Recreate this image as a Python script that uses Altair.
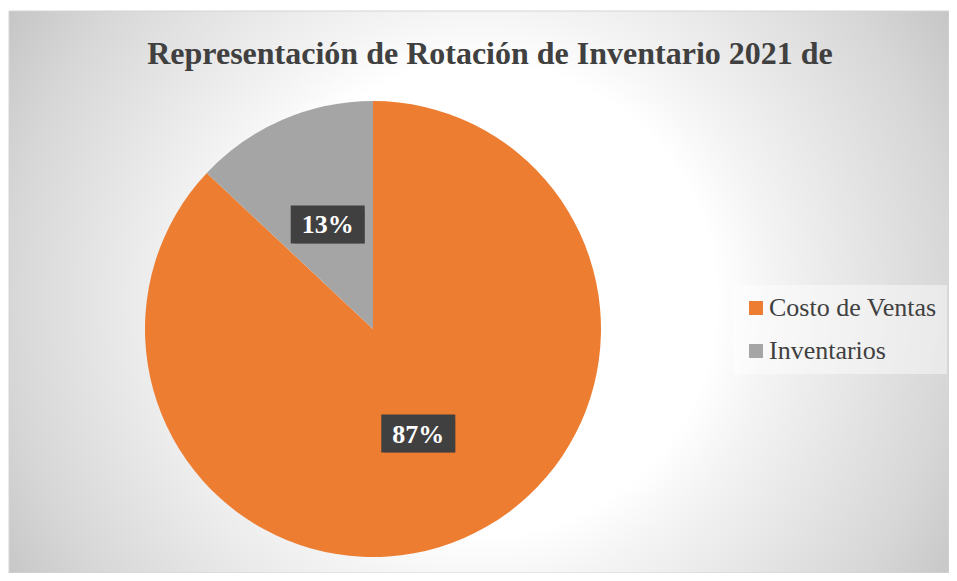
import altair as alt
import pandas as pd

categories = ["Costo de Ventas", "Inventarios"]
values = [87, 13]
colors = ["#ED7D31", "#A5A5A5"]
title_text = "Representación de Rotación de Inventario 2021 de"

df = pd.DataFrame({"cat": categories, "val": values, "ord": list(range(len(categories)))})

W, H = 940, 562
CX, CY, R = 364, 318, 228
LR = 114
BW, BH = 74, 38
GX, GY, GR = 471, 289, 560

grad = {
    "gradient": "radial",
    "x1": 0.5, "y1": 0.5, "x2": 0.5, "y2": 0.5, "r1": 0, "r2": 0.5,
    "stops": [
        {"offset": 0, "color": "#ffffff"},
        {"offset": 0.42, "color": "#ffffff"},
        {"offset": 0.52, "color": "#f4f4f4"},
        {"offset": 0.84, "color": "#d7d7d7"},
        {"offset": 1, "color": "#c4c4c4"},
    ],
}

one = pd.DataFrame({"a": [0]})

bg = alt.Chart(one).mark_rect(clip=True, fill=grad).encode(
    x=alt.value(GX - GR), x2=alt.value(GX + GR),
    y=alt.value(GY - GR), y2=alt.value(GY + GR),
)

border = alt.Chart(one).mark_rect(fillOpacity=0, stroke="#d4d4d4", strokeWidth=1).encode(
    x=alt.value(0), x2=alt.value(W), y=alt.value(0), y2=alt.value(H),
)

title = alt.Chart(one).mark_text(
    text=title_text, font="Liberation Serif", fontWeight="bold", fontSize=32,
    color="#404040", align="center", baseline="middle",
).encode(x=alt.value(481), y=alt.value(43))

pie = alt.Chart(df).mark_arc(outerRadius=R).encode(
    theta=alt.Theta("val:Q", stack=True),
    order=alt.Order("ord:Q"),
    color=alt.Color(
        "cat:N",
        scale=alt.Scale(domain=categories, range=colors),
        legend=alt.Legend(
            title=None, orient="none", legendX=724, legendY=274,
            symbolType="square", symbolSize=196, symbolStrokeWidth=0,
            symbolOpacity=1, labelFont="Liberation Serif", labelFontSize=26,
            labelColor="#404040", padding=10, rowPadding=17, labelOffset=0,
            fillColor="rgba(255,255,255,0.45)", labelLimit=400,
        ),
    ),
    x=alt.value(CX), y=alt.value(CY),
)

lab = alt.Chart(df).transform_joinaggregate(
    total="sum(val)"
).transform_window(
    cum="sum(val)", sort=[alt.SortField("ord")], frame=[None, 0]
).transform_calculate(
    mid="(datum.cum - datum.val/2) / datum.total * 2 * PI",
    px=f"{CX} + {LR} * sin(datum.mid)",
    py=f"{CY} - {LR} * cos(datum.mid)",
    x0=f"datum.px - {BW/2}", x1=f"datum.px + {BW/2}",
    y0=f"datum.py - {BH/2}", y1=f"datum.py + {BH/2}",
    pct="format(datum.val / datum.total, '.0%')",
)

shadow = lab.mark_rect(color="#000000", opacity=0.28, xOffset=4, yOffset=5).encode(
    x=alt.X("x0:Q", scale=None), x2="x1:Q",
    y=alt.Y("y0:Q", scale=None), y2="y1:Q",
)
box = lab.mark_rect(color="#404040", opacity=1).encode(
    x=alt.X("x0:Q", scale=None), x2="x1:Q",
    y=alt.Y("y0:Q", scale=None), y2="y1:Q",
)
txt = lab.mark_text(
    font="Liberation Serif", fontWeight="bold", fontSize=26, color="#ffffff",
    align="center", baseline="middle", dy=1,
).encode(
    x=alt.X("px:Q", scale=None), y=alt.Y("py:Q", scale=None), text="pct:N",
)

chart = alt.layer(bg, border, title, pie, shadow, box, txt).properties(
    width=W, height=H,
    padding={"left": 1, "top": 3, "right": 0, "bottom": 0},
    autosize=alt.AutoSizeParams(type="none"),
    background="#ffffff",
).configure_view(stroke=None)

chart.save("out.html", embed_options={"renderer": "svg", "actions": False})
